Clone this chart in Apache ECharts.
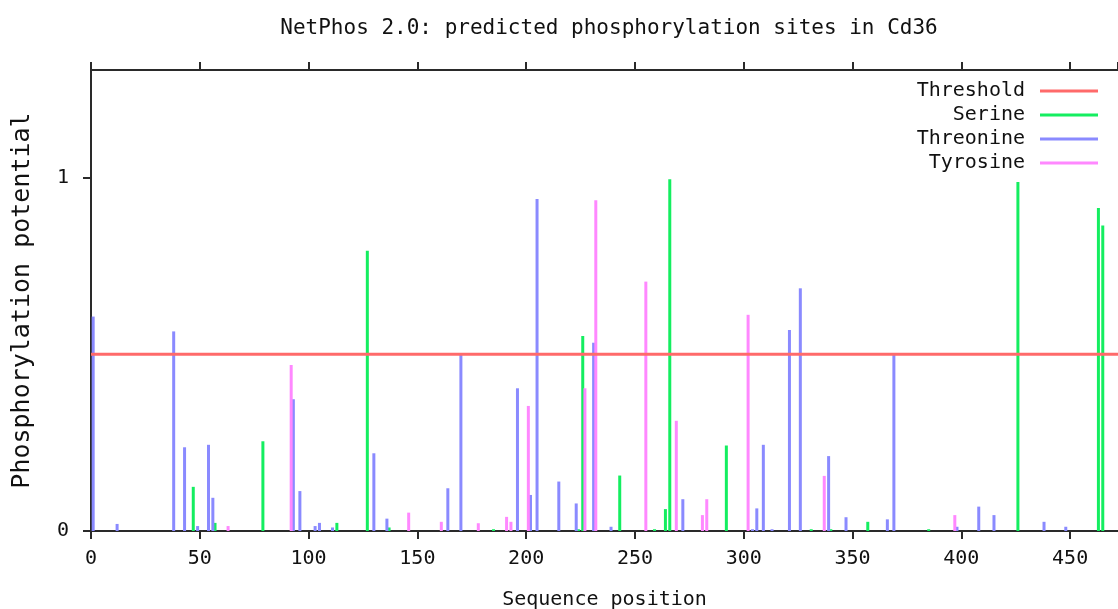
<!DOCTYPE html>
<html>
<head>
<meta charset="utf-8">
<script src="https://cdn.jsdelivr.net/npm/echarts@6/dist/echarts.min.js"></script>
<style>html,body{margin:0;padding:0;background:#fff;}#c{width:1118px;height:609px;}</style>
</head>
<body>
<div id="c"></div>
<script>
const titleText = 'NetPhos 2.0: predicted phosphorylation sites in Cd36';
const xName = 'Sequence position';
const yName = 'Phosphorylation potential';
const seriesNames = ['Threshold', 'Serine', 'Threonine', 'Tyrosine'];
const thresholdValue = 0.5;

const serine = [[47,0.125],[57,0.023],[79,0.254],[113,0.023],[127,0.793],[137,0.01],[185,0.005],[224,0.005],[226,0.552],[243,0.157],[259,0.005],[264,0.062],[266,0.996],[292,0.242],[331,0.005],[340,0.005],[357,0.026],[385,0.005],[426,0.988],[463,0.914],[465,0.865]];
const threonine = [[1,0.607],[12,0.02],[38,0.565],[43,0.237],[49,0.014],[54,0.244],[56,0.094],[93,0.373],[96,0.113],[103,0.014],[105,0.023],[111,0.01],[130,0.22],[136,0.035],[164,0.121],[170,0.501],[196,0.404],[202,0.102],[205,0.94],[215,0.14],[223,0.078],[231,0.533],[239,0.012],[272,0.09],[304,0.005],[306,0.064],[309,0.244],[313,0.005],[321,0.569],[326,0.687],[339,0.212],[347,0.039],[366,0.033],[369,0.5],[398,0.012],[408,0.069],[415,0.045],[438,0.026],[448,0.012]];
const tyrosine = [[63,0.014],[92,0.47],[146,0.052],[161,0.026],[178,0.022],[191,0.04],[193,0.026],[201,0.354],[227,0.404],[232,0.936],[255,0.706],[269,0.312],[281,0.045],[283,0.09],[302,0.612],[337,0.156],[397,0.045]];

const X_MIN = 0, X_MAX = 472, X_STEP = 50;
const Y_MIN = 0, Y_MAX = 1.305, Y_STEP = 1;

const FONT = '"DejaVu Sans Mono", "Liberation Mono", monospace';
const TEXT = '#111';
const colors = {Threshold:'#ff6a6a', Serine:'#14ee60', Threonine:'#8a8aff', Tyrosine:'#ff88ff'};

const chart = echarts.init(document.getElementById('c'), null, {renderer:'canvas'});

function barSeries(name, data){
  return {
    name: name, type: 'bar', data: data,
    xAxisIndex: 0, yAxisIndex: 0,
    barWidth: 3, barGap: '-100%',
    itemStyle: {color: colors[name]},
    emphasis: {disabled: true},
    z: 2
  };
}

const axisLineStyle = {color:'#2a2a2a', width:2};

chart.setOption({
  animation: false,
  backgroundColor: '#ffffff',
  title: {
    text: titleText,
    left: 604, top: 13, textAlign: 'center',
    textStyle: {fontFamily: FONT, fontSize: 21, fontWeight: 'normal', color: TEXT}
  },
  legend: {
    data: seriesNames,
    orient: 'vertical',
    right: 15, top: 74,
    align: 'right',
    itemWidth: 58, itemHeight: 3,
    itemGap: 0,
    icon: 'rect',
    selectedMode: false,
    textStyle: {
      fontFamily: FONT, fontSize: 20, color: TEXT, lineHeight: 24,
      rich: {a: {fontFamily: FONT, fontSize: 20, color: TEXT, padding:[0,10,0,0], lineHeight: 24}}
    },
    formatter: function(n){ return '{a|' + n + '}'; }
  },
  grid: {left: 91, right: 0, top: 70, bottom: 78, containLabel: false, outerBoundsMode: 'none'},
  xAxis: [{
    type: 'value', min: X_MIN, max: X_MAX, interval: X_STEP,
    position: 'bottom',
    name: xName, nameLocation: 'middle', nameGap: 59,
    nameTextStyle: {fontFamily: FONT, fontSize: 20, color: TEXT},
    axisLine: {show: true, lineStyle: axisLineStyle},
    axisTick: {show: true, inside: false, length: 8, lineStyle: axisLineStyle},
    axisLabel: {fontFamily: FONT, fontSize: 20, color: TEXT, margin: 18, showMaxLabel: false},
    splitLine: {show: false}
  },{
    type: 'value', min: X_MIN, max: X_MAX, interval: X_STEP,
    position: 'top',
    axisLine: {show: true, lineStyle: axisLineStyle},
    axisTick: {show: true, inside: false, length: 8, lineStyle: axisLineStyle},
    axisLabel: {show: false},
    splitLine: {show: false}
  }],
  yAxis: [{
    type: 'value', min: Y_MIN, max: Y_MAX, interval: Y_STEP,
    name: yName, nameLocation: 'middle', nameGap: 56, nameRotate: 90,
    nameTextStyle: {fontFamily: FONT, fontSize: 25, color: TEXT},
    axisLine: {show: true, onZero: false, lineStyle: axisLineStyle},
    axisTick: {show: true, inside: false, length: 8, lineStyle: axisLineStyle},
    axisLabel: {fontFamily: FONT, fontSize: 20, color: TEXT, margin: 22, showMaxLabel: false},
    splitLine: {show: false}
  }],
  series: [
    {
      name: 'Threshold', type: 'line',
      data: [[X_MIN, thresholdValue], [X_MAX, thresholdValue]],
      symbol: 'none', silent: true,
      lineStyle: {color: colors.Threshold, width: 3},
      itemStyle: {color: colors.Threshold},
      z: 5
    },
    barSeries('Serine', serine),
    barSeries('Threonine', threonine),
    barSeries('Tyrosine', tyrosine)
  ]
});
</script>
</body>
</html>
